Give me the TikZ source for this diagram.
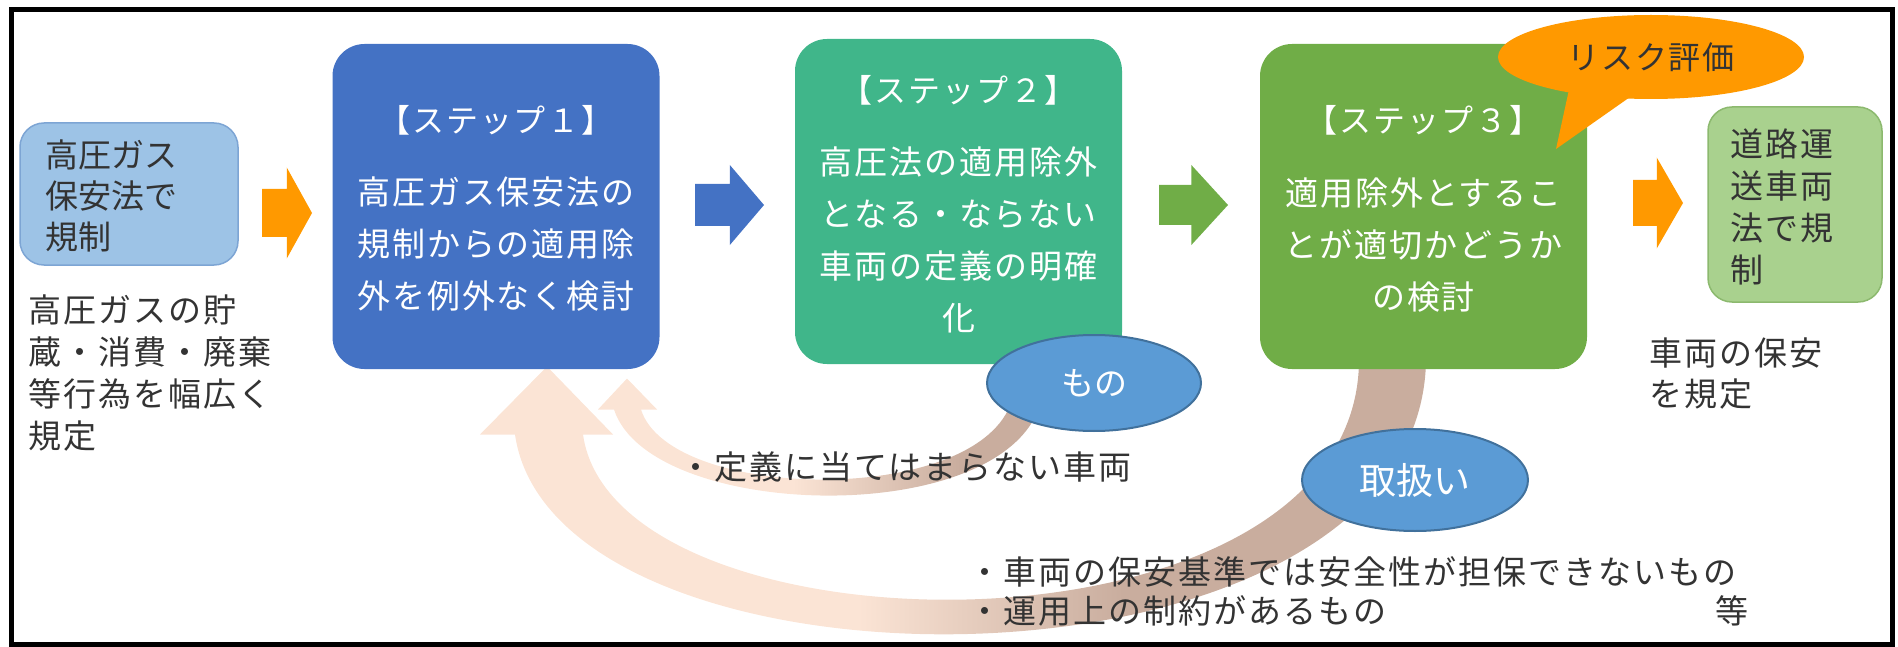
\documentclass[tikz,border=0pt]{standalone}
\usepackage{fontspec}
\setmainfont{Noto Sans CJK JP}
\newfontfamily\jpwide[LetterSpace=6]{Noto Sans CJK JP}
\usetikzlibrary{shapes.geometric,shapes.arrows,calc}
\pgfdeclarelayer{background}
\pgfsetlayers{background,main}

\definecolor{stepblue}{RGB}{68,114,196}
\definecolor{stepteal}{RGB}{64,182,138}
\definecolor{stepgreen}{RGB}{112,173,71}
\definecolor{lawblue}{RGB}{157,195,230}
\definecolor{lawblueline}{RGB}{125,165,212}
\definecolor{lawgreen}{RGB}{169,209,142}
\definecolor{lawgreenline}{RGB}{140,185,110}
\definecolor{arrorange}{RGB}{255,153,0}
\definecolor{tagblue}{RGB}{91,155,213}
\definecolor{tagline}{RGB}{65,113,156}
\definecolor{arcpeach}{RGB}{251,228,213}
\definecolor{arctaupe}{RGB}{201,173,158}
\definecolor{inktext}{RGB}{51,51,51}

\pgfdeclarehorizontalshading{bigarc}{100bp}{color(0bp)=(arcpeach); color(45bp)=(arcpeach); color(59bp)=(arctaupe); color(100bp)=(arctaupe)}
\pgfdeclarehorizontalshading{smallarc}{100bp}{color(0bp)=(arcpeach); color(47bp)=(arcpeach); color(66bp)=(arctaupe); color(100bp)=(arctaupe)}

\begin{document}
\begin{tikzpicture}
[x=1pt, y=-1pt, line width=1pt,
stepbox/.style={rectangle, rounded corners=32pt, minimum width=327pt, minimum height=325pt, inner sep=0pt},
steptitle/.style={text=white, inner sep=0pt, font=\jpwide\fontsize{32pt}{36pt}\selectfont},
stepbody/.style={text=white, align=center, inner sep=0pt, font=\jpwide\fontsize{33pt}{52pt}\selectfont},
lawbox/.style={rectangle, rounded corners=24pt, line width=1.5pt, inner sep=0pt},
lawtext/.style={text=inktext, align=left, inner sep=0pt, anchor=west, font=\fontsize{33pt}{41pt}\selectfont},
notetext/.style={text=inktext, align=left, inner sep=0pt, anchor=west, font=\jpwide\fontsize{33pt}{42pt}\selectfont},
blockarr/.style={single arrow, anchor=tail, inner xsep=0pt, outer sep=0pt, draw=none},
tag/.style={ellipse, fill=tagblue, draw=tagline, line width=2pt, text=white, inner sep=0pt}
]

\useasboundingbox (0,0) rectangle (1898,647);
\draw[line width=5pt] (11,9.5) rectangle (1892,644);

\node[lawbox, fill=lawblue, draw=lawblueline, minimum width=218pt, minimum height=142pt] (hpg) at (129,194) {};
\node[lawtext] (hpgtxt) at (45,196) {高圧ガス\\保安法で\\規制};
\node[notetext] (hpgnote) at (28,373) {高圧ガスの貯\\蔵・消費・廃棄\\等行為を幅広く\\規定};

\node[blockarr, fill=arrorange, minimum height=50pt, minimum width=90pt, inner ysep=23.5pt, single arrow head extend=21.5pt, single arrow tip angle=122] (arr1) at (262,213) {};

\node[stepbox, fill=stepblue] (step1) at (496,206.5) {};
\node[steptitle] (step1t) at (496,120) {【ステップ１】};
\node[stepbody] (step1b) at (496,244) {高圧ガス保安法の\\規制からの適用除\\外を例外なく検討};

\node[blockarr, fill=stepblue, minimum height=69pt, minimum width=79pt, inner ysep=20.5pt, single arrow head extend=19pt, single arrow tip angle=99] (arr2) at (695,205) {};

\node[stepbox, fill=stepteal] (step2) at (958.5,201.5) {};
\node[steptitle] (step2t) at (958.5,90) {【ステップ２】};
\node[stepbody] (step2b) at (958.5,239.5) {高圧法の適用除外\\となる・ならない\\車両の定義の明確\\化};

\node[blockarr, fill=stepgreen, minimum height=69pt, minimum width=79pt, inner ysep=19.5pt, single arrow head extend=20pt, single arrow tip angle=95] (arr3) at (1159,205) {};

\node[stepbox, fill=stepgreen] (step3) at (1423.5,206.5) {};
\node[steptitle] (step3t) at (1423.5,120) {【ステップ３】};
\node[stepbody] (step3b) at (1423.5,245.5) {適用除外とするこ\\とが適切かどうか\\の検討};

\fill[arrorange] (1570,85) -- (1556,149) -- (1640,90) -- cycle;
\node[ellipse, fill=arrorange, minimum width=306pt, minimum height=84pt, inner sep=0pt, text=inktext, font=\jpwide\fontsize{32pt}{36pt}\selectfont] (risk) at (1651,57) {リスク評価};

\node[blockarr, fill=arrorange, minimum height=50pt, minimum width=90pt, inner ysep=22.5pt, single arrow head extend=22.5pt, single arrow tip angle=120] (arr4) at (1633,203) {};

\node[lawbox, fill=lawgreen, draw=lawgreenline, minimum width=174pt, minimum height=195pt] (rvl) at (1795,204.5) {};
\node[notetext] (rvltxt) at (1730,207) {道路運\\送車両\\法で規\\制};
\node[notetext, font=\jpwide\fontsize{33pt}{41pt}\selectfont] (rvlnote) at (1649,374) {車両の保安\\を規定};

\node[tag, minimum width=214pt, minimum height=96pt, font=\fontsize{33pt}{36pt}\selectfont] (mono) at (1094,383) {もの};
\node[tag, minimum width=226pt, minimum height=102pt, font=\fontsize{37pt}{40pt}\selectfont] (toriatsu) at (1415,480) {取扱い};

\node[notetext] (monotxt) at (679,467) {・定義に当てはまらない車両};
\node[notetext, text width=780pt, font=\jpwide\fontsize{33pt}{39pt}\selectfont] (toritxt) at (968,591) {・車両の保安基準では安全性が担保できないもの\\・運用上の制約があるもの\hfill 等};

\coordinate (bigtip) at ($(step1.south)+(51,-3)$);
\coordinate (bigtail) at ($(step3.south)+(-31,-8)$);
\coordinate (smalltip) at ($(step1.south)+(131,9)$);
\coordinate (smalltail) at ($(mono.south)+(-68,-30)$);

\begin{pgfonlayer}{background}
\shade[shading=bigarc] ($(bigtail)+(-33.5,0)$) -- ($(bigtail)+(33.5,0)$)
  .. controls (1418,712) and (555,712) .. ($(bigtip)+(-32,68)$) -- ($(bigtip)+(-67,68)$) -- (bigtip)
  -- ($(bigtip)+(66,68)$) -- ($(bigtip)+(36,68)$)
  .. controls (615,662) and (1355,670) .. ($(bigtail)+(-33.5,0)$) -- cycle;
\shade[shading=smallarc] ($(smalltail)+(14,3)$)
  .. controls (1000,530) and (650,520) .. ($(smalltip)+(-13,31)$) -- ($(smalltip)+(-29,31)$) -- (smalltip)
  -- ($(smalltip)+(30,31)$) -- ($(smalltip)+(14,31)$)
  .. controls (670,502) and (980,507) .. ($(smalltail)+(-14,-2)$) -- cycle;
\end{pgfonlayer}

\end{tikzpicture}
\end{document}
